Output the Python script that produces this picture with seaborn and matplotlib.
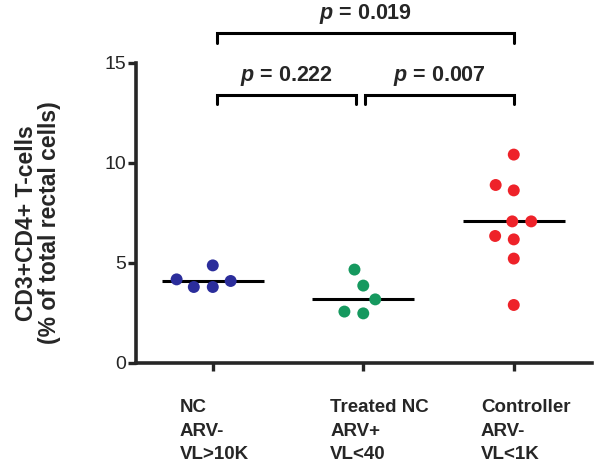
import numpy as np
import pandas as pd
import matplotlib
matplotlib.use("Agg")
import matplotlib.pyplot as plt
import matplotlib.transforms as mtransforms
import seaborn as sns

# ---------------------------------------------------------
# Data
# ---------------------------------------------------------
groups = ["NC\nARV-\nVL>10K", "Treated NC\nARV+\nVL<40", "Controller\nARV-\nVL<1K"]
nc_vals = [4.1, 4.88, 3.8, 3.8, 4.18]
treated_vals = [4.67, 3.87, 3.18, 2.48, 2.57]
controller_vals = [10.42, 8.9, 8.63, 7.08, 7.08, 6.35, 6.18, 5.22, 2.9]
colors = ["#2b2d9b", "#16995f", "#ee2229"]

# pairwise p-values: (left group, right group, label)
comparisons = [(0, 1, "0.222"), (1, 2, "0.007"), (0, 2, "0.019")]

df = pd.DataFrame({
    "group": [groups[0]] * len(nc_vals) + [groups[1]] * len(treated_vals)
             + [groups[2]] * len(controller_vals),
    "value": nc_vals + treated_vals + controller_vals,
})

sns.set_style("ticks")
plt.rcParams["font.family"] = ["Liberation Sans", "DejaVu Sans"]
plt.rcParams["mathtext.fontset"] = "custom"
plt.rcParams["mathtext.it"] = "Liberation Sans:italic:bold"

fig = plt.figure(figsize=(6, 4.68), dpi=100)
ax = fig.add_axes([0.2267, 0.2244, 0.76, 0.641])

# invisible edge widens the swarm spacing (Prism-like gaps between dots)
sns.swarmplot(data=df, x="group", y="value", hue="group", order=groups,
              palette=colors, size=8.6, linewidth=4.4, edgecolor="none",
              legend=False, ax=ax, zorder=3)

# median bars
for i, vals in enumerate([nc_vals, treated_vals, controller_vals]):
    ax.hlines(np.median(vals), i - 0.34, i + 0.34, color="black", lw=2.2, zorder=2)

ax.set_xlim(-0.51, 2.52)
ax.set_ylim(0, 15)
ax.set_yticks([0, 5, 10, 15])
ax.set_xlabel("")
ax.set_ylabel("CD3+CD4+ T-cells\n(% of total rectal cells)", fontsize=16.5,
              fontweight="bold", linespacing=1.0)
ax.yaxis.set_label_coords(-0.165, 0.467)

for s in ["top", "right"]:
    ax.spines[s].set_visible(False)
for s in ["left", "bottom"]:
    ax.spines[s].set_linewidth(2.6)
ax.tick_params(axis="both", width=2.4, length=6)
ax.tick_params(axis="y", labelsize=14, pad=1)
ax.set_xticks(range(3))
ax.set_xticklabels(groups, fontsize=13.5, fontweight="bold", ha="left",
                   linespacing=1.5)
offset = mtransforms.ScaledTranslation(-33 / 100, -23 / 100, fig.dpi_scale_trans)
for lbl in ax.get_xticklabels():
    lbl.set_transform(lbl.get_transform() + offset)

# significance brackets
for a, b, p in comparisons:
    if b - a == 2:
        y_top, y_bot, x0, x1 = 16.5, 16.0, a + 0.03, b
    elif a == 0:
        y_top, y_bot, x0, x1 = 13.4, 12.95, a + 0.03, b - 0.05
    else:
        y_top, y_bot, x0, x1 = 13.4, 12.95, a + 0.01, b
    ax.plot([x0, x0, x1, x1], [y_bot, y_top, y_top, y_bot], color="black",
            lw=2.2, clip_on=False, solid_joinstyle="miter")
    ax.text((x0 + x1) / 2, y_top + 0.35, r"$p$ = " + p, ha="center", va="bottom",
            fontsize=15.5, fontweight="bold", clip_on=False)

fig.savefig("out.png", dpi=100)
